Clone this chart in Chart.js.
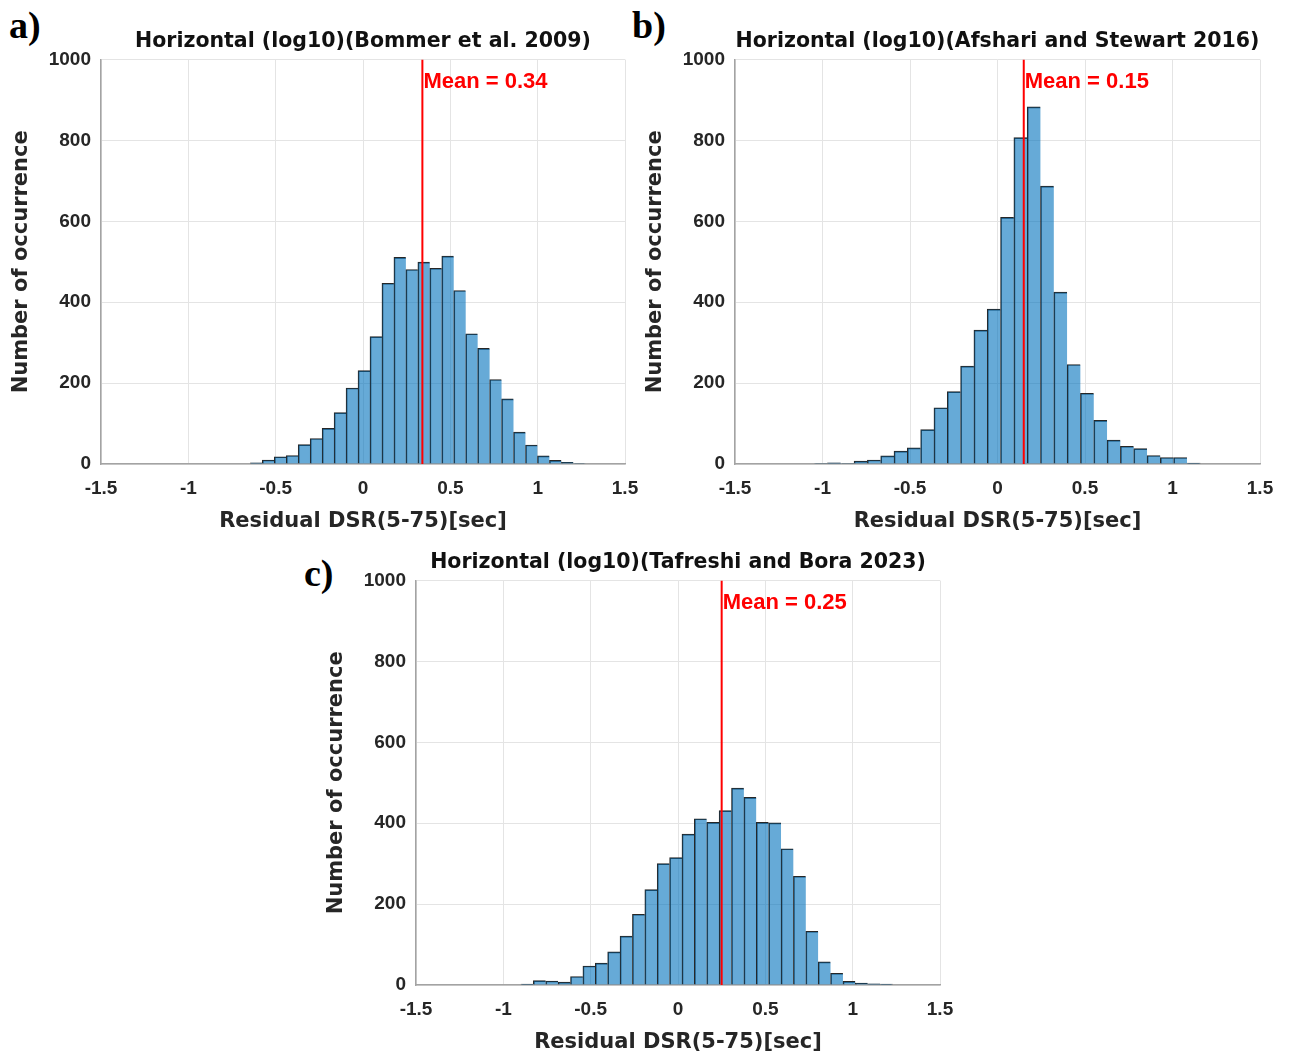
<!DOCTYPE html>
<html>
<head>
<meta charset="utf-8">
<script src="https://cdn.jsdelivr.net/npm/chart.js@4.4.1/dist/chart.umd.min.js"></script>
<style>
  html, body { margin: 0; padding: 0; background: #fff; overflow: hidden; }
  body { width: 1289px; height: 1057px; position: relative; }
  .panel { position: absolute; width: 660px; height: 545px; }
  .panel canvas { display: block; }
  .letter {
    position: absolute;
    font-family: "Liberation Serif", "Times New Roman", serif;
    font-weight: bold;
    font-size: 38px;
    color: #000;
  }
</style>
</head>
<body>
<div class="letter" style="left:9px; top:3px;">a)</div>
<div class="letter" style="left:632px; top:3px;">b)</div>
<div class="letter" style="left:304px; top:551px;">c)</div>

<div class="panel" style="left:0px; top:0px;"><canvas id="chartA"></canvas></div>
<div class="panel" style="left:634px; top:0px; width:655px;"><canvas id="chartB"></canvas></div>
<div class="panel" style="left:315px; top:521px;"><canvas id="chartC"></canvas></div>

<script>
// histogram data (counts per bin)
const titles = [
  'Horizontal (log10)(Bommer et al. 2009)',
  'Horizontal (log10)(Afshari and Stewart 2016)',
  'Horizontal (log10)(Tafreshi and Bora 2023)',
];
const means = [0.34, 0.15, 0.25];
const binStarts = [-0.645, -1.048, -0.899];
const binWidths = [0.0685, 0.0761, 0.0709];

const countsA = [3, 10, 18, 21, 48, 63, 88, 127, 188, 231, 315, 447, 511, 481, 499, 484, 514, 429, 322, 286, 209, 161, 79, 47, 20, 9, 4, 1];
const countsB = [1, 3, 1, 7, 10, 20, 32, 40, 85, 139, 179, 242, 331, 383, 610, 807, 883, 687, 425, 246, 175, 108, 59, 44, 38, 21, 16, 16, 2];
const countsC = [2, 11, 10, 7, 21, 47, 54, 82, 121, 175, 236, 300, 315, 373, 411, 402, 431, 487, 464, 402, 401, 337, 269, 133, 57, 29, 9, 5, 3, 2];

const xLabel = 'Residual DSR(5-75)[sec]';
const yLabel = 'Number of occurrence';

const BAR_FILL = 'rgba(0, 114, 189, 0.6)';
const BAR_EDGE = '#262626';
const GRID = '#e4e4e4';
const AXIS = '#a3a3a3';
const TEXT = '#262626';
const FONT = '"DejaVu Sans", sans-serif';
const TICK_FONT = '"Liberation Sans", Arial, sans-serif';

Chart.defaults.font.family = FONT;
Chart.defaults.font.weight = 'bold';
Chart.defaults.color = TEXT;

const meanLabelPlugin = {
  id: 'meanLabel',
  afterDatasetsDraw(chart, args, opts) {
    const { ctx, chartArea, scales } = chart;
    const x = scales.x.getPixelForValue(opts.value);
    ctx.save();
    ctx.fillStyle = '#ff0000';
    ctx.font = 'bold 22px "Liberation Sans", Arial, sans-serif';
    ctx.textBaseline = 'middle';
    ctx.textAlign = 'left';
    ctx.fillText(opts.text, x + 1, chartArea.top + 22);
    ctx.restore();
  },
};

function histPoints(counts, start, width) {
  return counts.map((c, i) => ({ x: start + width * (i + 0.5), y: c }));
}

function makeHistogram(canvasId, idx, counts, rightPad) {
  const ctx = document.getElementById(canvasId).getContext('2d');
  const last = counts.length - 1;
  return new Chart(ctx, {
    type: 'bar',
    data: {
      datasets: [
        {
          type: 'bar',
          data: histPoints(counts, binStarts[idx], binWidths[idx]),
          backgroundColor: BAR_FILL,
          borderColor: BAR_EDGE,
          borderWidth: c => ({ top: 1, left: 1, bottom: 0, right: c.dataIndex === last ? 1 : 0 }),
          borderSkipped: false,
          barPercentage: 1,
          categoryPercentage: 1,
          order: 2,
        },
        {
          type: 'line',
          data: [{ x: means[idx], y: 0 }, { x: means[idx], y: 1000 }],
          borderColor: '#ff0000',
          borderWidth: 2,
          pointRadius: 0,
          order: 1,
        },
      ],
    },
    options: {
      responsive: true,
      maintainAspectRatio: false,
      animation: false,
      layout: { padding: { left: 0, right: rightPad, top: 0, bottom: 0 } },
      plugins: {
        legend: { display: false },
        tooltip: { enabled: false },
        title: {
          display: true,
          text: titles[idx],
          fullSize: false,
          color: '#111',
          font: { size: 20.5, weight: 'bold', family: FONT },
          padding: { top: 29, bottom: 6 },
        },
        meanLabel: { value: means[idx], text: 'Mean = ' + means[idx] },
      },
      scales: {
        x: {
          type: 'linear',
          min: -1.5,
          max: 1.5,
          offset: false,
          afterFit: s => { s.height = 81; },
          ticks: {
            stepSize: 0.5, padding: 13, color: TEXT, maxRotation: 0,
            font: { size: 19, weight: 'bold', family: TICK_FONT },
            callback: v => String(v),
          },
          grid: { color: GRID, offset: false, drawTicks: false },
          border: { color: AXIS, width: 1.5 },
          title: {
            display: true, text: xLabel, color: TEXT,
            font: { size: 21, weight: 'bold' }, padding: { top: 0, bottom: 11 },
          },
        },
        y: {
          min: 0,
          max: 1000,
          afterFit: s => { s.width = 101; },
          ticks: {
            stepSize: 200, padding: 10, color: TEXT,
            font: { size: 19, weight: 'bold', family: TICK_FONT },
            callback: v => String(v),
          },
          grid: { color: GRID, drawTicks: false },
          border: { color: AXIS, width: 1.5 },
          title: {
            display: true, text: yLabel, color: TEXT,
            font: { size: 21, weight: 'bold' }, padding: { top: 9, bottom: 0 },
          },
        },
      },
    },
    plugins: [meanLabelPlugin],
  });
}

makeHistogram('chartA', 0, countsA, 35);
makeHistogram('chartB', 1, countsB, 29);
makeHistogram('chartC', 2, countsC, 35);
</script>
</body>
</html>
